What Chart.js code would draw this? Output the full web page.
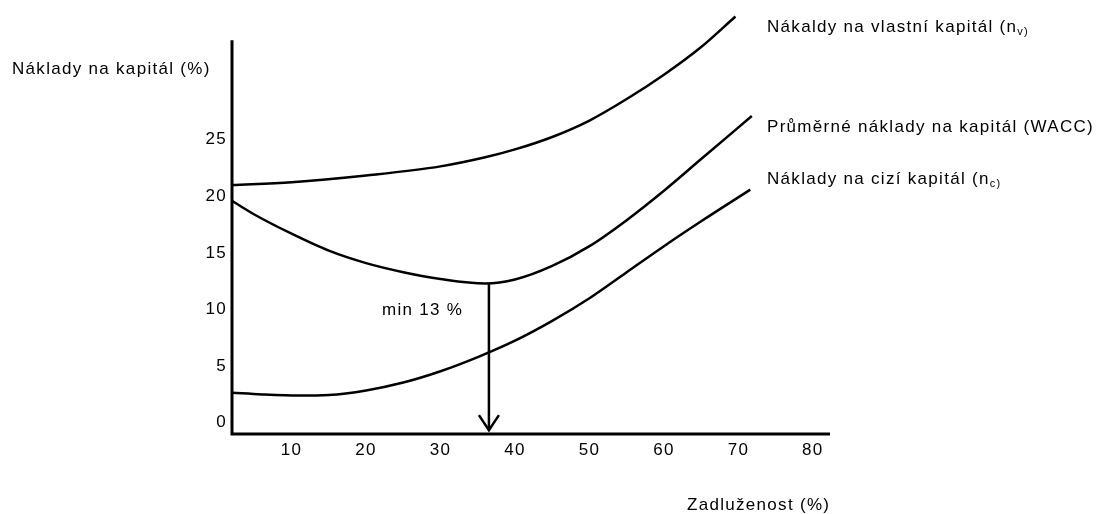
<!DOCTYPE html>
<html>
<head>
<meta charset="utf-8">
<script src="https://cdn.jsdelivr.net/npm/chart.js@4.4.0/dist/chart.umd.min.js"></script>
<style>
  body { margin: 0; background: #fff; }
</style>
</head>
<body>
<canvas id="costChart" width="1102" height="514"></canvas>
<script>
// hodnoty (x = zadluženost %, y = náklady %)
const equityX = [2, 10, 20, 30, 36, 40, 45, 50, 55, 60, 65, 69.6];
const equityY = [21.0, 21.25, 21.85, 22.65, 23.45, 24.15, 25.25, 26.7, 28.6, 30.75, 33.2, 35.9];

const waccX = [2, 5, 10, 15, 20, 25, 30, 36, 40, 45, 50, 55, 60, 65, 71.8];
const waccY = [19.6, 18.4, 16.7, 15.2, 14.1, 13.3, 12.7, 12.3, 12.65, 13.85, 15.6, 17.9, 20.5, 23.3, 27.1];

const debtX = [2, 6, 11, 15, 20, 25, 30, 35, 40, 45, 50, 55, 60, 65, 71.6];
const debtY = [2.65, 2.5, 2.4, 2.45, 2.85, 3.55, 4.55, 5.8, 7.25, 9.0, 11.0, 13.3, 15.6, 17.8, 20.6];

const xTicks = [10, 20, 30, 40, 50, 60, 70, 80];
const yTicks = [0, 5, 10, 15, 20, 25];

// šipka k minimu WACC
const minDebt = 36.5;
const minWacc = 12.3;
const arrowTip = -0.66;
const yAxisTop = 33.8;

const FAMILY = '"Liberation Sans", Arial, sans-serif';
const FONT = '17px ' + FAMILY;
const SUB_FONT = '11px ' + FAMILY;
const SPACING = '1.3px';

function toPoints(xs, ys) {
    return xs.map((x, i) => ({ x: x, y: ys[i] }));
}

function curve(label, xs, ys) {
    return {
        label: label,
        data: toPoints(xs, ys),
        showLine: true,
        borderColor: '#000',
        borderWidth: 2.5,
        cubicInterpolationMode: 'monotone',
        pointRadius: 0,
        fill: false
    };
}

function drawLabel(ctx, parts, x, y) {
    let cx = x;
    parts.forEach(p => {
        ctx.font = p.sub ? SUB_FONT : FONT;
        ctx.fillText(p.t, cx, p.sub ? y + 3 : y);
        cx += ctx.measureText(p.t).width;
    });
}

const decorPlugin = {
    id: 'decor',
    beforeDraw(chart) {
        chart.ctx.letterSpacing = SPACING;
    },
    afterDatasetsDraw(chart) {
        const ctx = chart.ctx;
        const xs = chart.scales.x;
        const ys = chart.scales.y;
        const area = chart.chartArea;
        ctx.save();
        ctx.strokeStyle = '#000';

        // osy
        ctx.lineWidth = 3;
        ctx.beginPath();
        ctx.moveTo(area.left, ys.getPixelForValue(yAxisTop));
        ctx.lineTo(area.left, area.bottom);
        ctx.lineTo(area.right, area.bottom);
        ctx.stroke();

        // šipka
        const ax = xs.getPixelForValue(minDebt);
        const top = ys.getPixelForValue(minWacc);
        const tip = ys.getPixelForValue(arrowTip);
        ctx.lineWidth = 2.5;
        ctx.beginPath();
        ctx.moveTo(ax, top);
        ctx.lineTo(ax, tip);
        ctx.stroke();
        ctx.beginPath();
        ctx.moveTo(ax - 10, tip - 15);
        ctx.lineTo(ax, tip);
        ctx.lineTo(ax + 10, tip - 15);
        ctx.stroke();
        ctx.restore();
    },
    afterDraw(chart) {
        const ctx = chart.ctx;
        ctx.save();
        ctx.letterSpacing = SPACING;
        ctx.fillStyle = '#000';
        ctx.textAlign = 'left';
        ctx.textBaseline = 'alphabetic';
        ctx.font = FONT;
        ctx.fillText('Náklady na kapitál (%)', 12, 74);
        ctx.fillText('Zadluženost (%)', 687, 510);
        ctx.fillText('min 13 %', 382, 315);
        drawLabel(ctx, [{ t: 'Nákaldy na vlastní kapitál (n' }, { t: 'v)', sub: true }], 767, 32);
        drawLabel(ctx, [{ t: 'Průměrné náklady na kapitál (WACC)' }], 767, 132);
        drawLabel(ctx, [{ t: 'Náklady na cizí kapitál (n' }, { t: 'c)', sub: true }], 767, 184);
        ctx.restore();
    }
};

new Chart(document.getElementById('costChart'), {
    type: 'scatter',
    data: {
        datasets: [
            curve('Náklady na vlastní kapitál', equityX, equityY),
            curve('Průměrné náklady na kapitál (WACC)', waccX, waccY),
            curve('Náklady na cizí kapitál', debtX, debtY)
        ]
    },
    options: {
        responsive: false,
        animation: false,
        devicePixelRatio: 1,
        layout: { padding: { left: 0, right: 272, top: 4, bottom: 0 } },
        plugins: {
            legend: { display: false },
            tooltip: { enabled: false }
        },
        scales: {
            x: {
                type: 'linear',
                min: 2,
                max: 82.3,
                grid: { display: false, drawTicks: false },
                border: { display: false },
                ticks: { color: '#000', font: { family: FAMILY, size: 17 }, padding: 6, maxRotation: 0 },
                afterBuildTicks: s => { s.ticks = xTicks.map(v => ({ value: v })); },
                afterFit: s => { s.height = 80; s.paddingLeft = 0; s.paddingRight = 0; }
            },
            y: {
                type: 'linear',
                min: -1,
                max: 37,
                grid: { display: false, drawTicks: false },
                border: { display: false },
                ticks: { color: '#000', font: { family: FAMILY, size: 17 }, padding: 5 },
                afterBuildTicks: s => { s.ticks = yTicks.map(v => ({ value: v })); },
                afterFit: s => { s.width = 232; s.paddingTop = 0; s.paddingBottom = 0; }
            }
        }
    },
    plugins: [decorPlugin]
});
</script>
</body>
</html>
